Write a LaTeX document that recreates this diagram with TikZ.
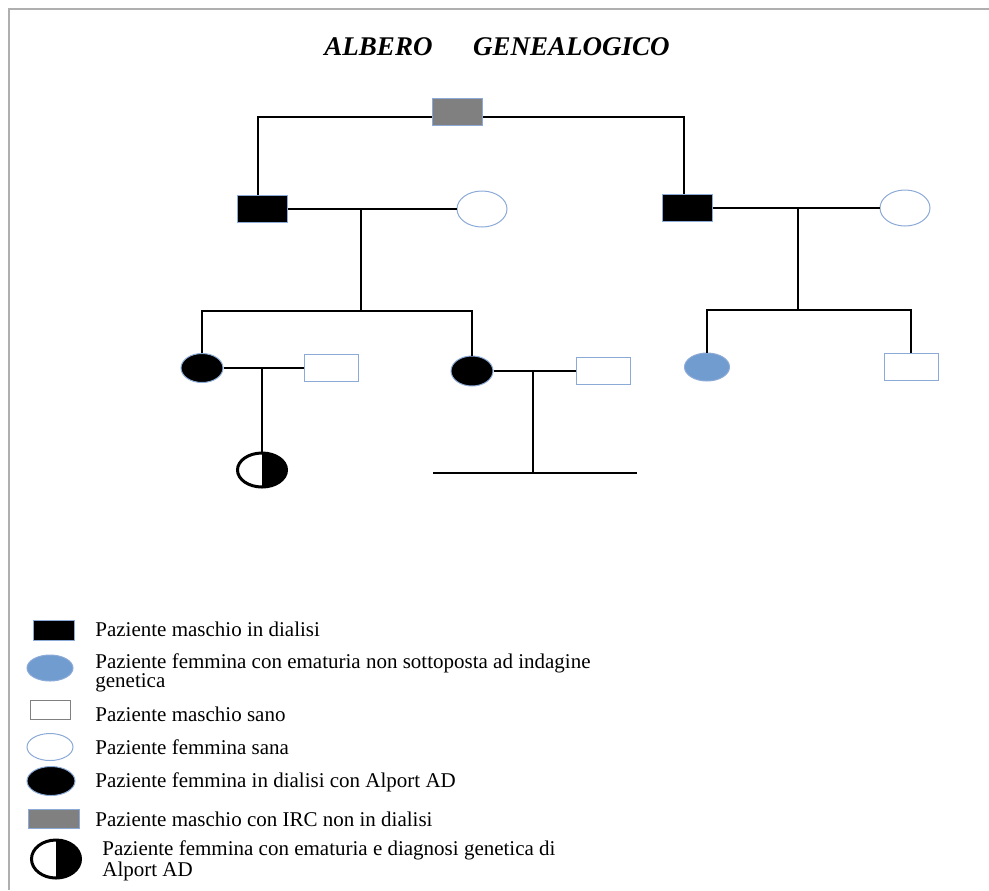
\documentclass[tikz,border=0pt]{standalone}
\usepackage{fontspec}
\setmainfont{Liberation Serif}
\usetikzlibrary{shapes.geometric}

\definecolor{edgeblue}{RGB}{140,170,215}
\definecolor{ircgray}{RGB}{128,128,128}
\definecolor{hemblue}{RGB}{112,156,207}
\definecolor{framegray}{RGB}{175,175,175}

\tikzset{
  male/.style={rectangle, draw=edgeblue, line width=0.5pt, minimum width=25pt,
    minimum height=13.5pt, inner sep=0pt},
  female/.style={ellipse, draw=edgeblue, line width=0.5pt, minimum width=25pt,
    minimum height=18pt, inner sep=0pt},
  halfmark/.style={ellipse, draw=black, line width=1.5pt, fill=white,
    inner sep=0pt, outer sep=0pt},
  link/.style={line width=1pt, black},
  legtext/.style={anchor=west, align=left, inner sep=0pt,
    font=\fontsize{10.5}{9.5}\selectfont},
}

\begin{document}
\begin{tikzpicture}[x=0.5pt, y=-0.5pt]
    \useasboundingbox (0,0) rectangle (989,890);
    \draw[framegray, line width=1.2pt] (9,890) -- (9,9) -- (989,9);

    \node[font=\fontsize{13.5}{13.5}\selectfont\bfseries\itshape] (title) at (497,47)
        {ALBERO\hspace{1.5em}GENEALOGICO};

    % I generazione
    \node[male, fill=ircgray] (gp) at (457,112) {};

    % II generazione
    \node[male, fill=black] (f1) at (262,209) {};
    \node[female, fill=white] (w1) at (482,209) {};
    \node[male, fill=black] (f2) at (687,208) {};
    \node[female, fill=white] (w2) at (905,208) {};

    % III generazione
    \node[female, fill=black, minimum width=21pt, minimum height=14.5pt] (d1) at (202,368) {};
    \node[male, fill=white, minimum width=27pt] (h1) at (331,368) {};
    \node[female, fill=black, minimum width=21pt, minimum height=15pt] (d2) at (472,371) {};
    \node[male, fill=white, minimum width=27pt] (h2) at (603,371) {};
    \node[female, fill=hemblue, minimum width=22.5pt, minimum height=14pt] (d3) at (707,367) {};
    \node[male, fill=white, minimum width=27pt] (h3) at (911,367) {};

    % IV generazione
    \node[halfmark, minimum width=24.5pt, minimum height=17pt] (g1) at (262,470) {};
    \fill[black] (g1.north) arc[start angle=90, end angle=-90, x radius=12.25pt, y radius=8.5pt] -- cycle;

    \coordinate (c1) at (361,209);
    \coordinate (s1) at (361,311);
    \coordinate (c2) at (798,208);
    \coordinate (s2) at (798,310);
    \coordinate (c3) at (262,368);
    \coordinate (c4) at (533,371);
    \coordinate (s4) at (533,473);
    \coordinate (l4) at (433,473);
    \coordinate (r4) at (637,473);

    \draw[link] ([yshift=-2.5pt]gp.west) -| ([xshift=-2pt]f1.north);
    \draw[link] ([yshift=-2.5pt]gp.east) -| ([xshift=-1.5pt]f2.north);
    \draw[link] (f1.east) -- (w1.west);
    \draw[link] (f2.east) -- (w2.west);
    \draw[link] (c1) -- (s1);
    \draw[link] (c2) -- (s2);
    \draw[link] (d1.north) |- (s1) -| (d2.north);
    \draw[link] (d3.north) |- (s2) -| (h3.north);
    \draw[link] (d1.east) -- (h1.west);
    \draw[link] (d2.east) -- (h2.west);
    \draw[link] (c3) -- (g1.north);
    \draw[link] (c4) -- (s4);
    \draw[link] (l4) -- (r4);

    % legenda
    \node[male, fill=black, draw=edgeblue, minimum width=20.5pt, minimum height=10pt] (k1) at (54,630) {};
    \node[legtext] (t1) at (95,629) {Paziente maschio in dialisi};
    \node[female, fill=hemblue, minimum width=23pt, minimum height=13pt] (k2) at (50,668) {};
    \node[legtext] (t2) at (95,673) {Paziente femmina con ematuria non sottoposta ad indagine\\genetica};
    \node[male, fill=white, draw=gray, minimum width=20pt, minimum height=9.5pt] (k3) at (50,710) {};
    \node[legtext] (t3) at (95,714) {Paziente maschio sano};
    \node[female, fill=white, minimum width=23pt, minimum height=13.5pt] (k4) at (50,747) {};
    \node[legtext] (t4) at (95,747) {Paziente femmina sana};
    \node[female, fill=black, minimum width=24pt, minimum height=14.5pt] (k5) at (51,781) {};
    \node[legtext] (t5) at (95,782) {Paziente femmina in dialisi con Alport AD};
    \node[male, fill=ircgray, minimum width=25.5pt, minimum height=9.5pt] (k6) at (54,819) {};
    \node[legtext] (t6) at (95,819) {Paziente maschio con IRC non in dialisi};
    \node[halfmark, minimum width=24.5pt, minimum height=19pt] (k7) at (56,859) {};
    \fill[black] (k7.north) arc[start angle=90, end angle=-90, x radius=12.25pt, y radius=9.5pt] -- cycle;
    \node[legtext] (t7) at (102,861) {Paziente femmina con ematuria e diagnosi genetica di\\Alport AD};
\end{tikzpicture}
\end{document}
